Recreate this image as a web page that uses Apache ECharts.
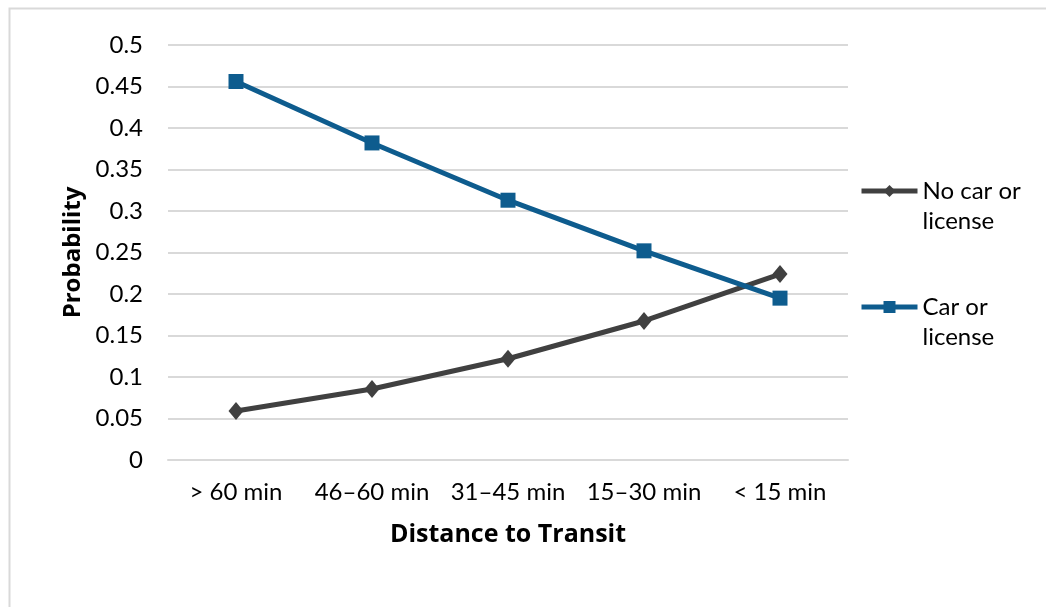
<!DOCTYPE html>
<html>
<head>
<meta charset="utf-8">
<script src="https://cdn.jsdelivr.net/npm/echarts@6/dist/echarts.min.js"></script>
<style>
  html, body { margin: 0; padding: 0; background: #fff; }
  #chart { width: 1046px; height: 607px; }
</style>
</head>
<body>
<div id="chart"></div>
<script>
// Travel-time bands to the nearest transit stop
const categories = ['> 60 min', '46\u201360 min', '31\u201345 min', '15\u201330 min', '< 15 min'];

// Predicted probability per band
const noCarOrLicense = [0.059, 0.0855, 0.122, 0.1675, 0.224];
const carOrLicense = [0.456, 0.382, 0.313, 0.252, 0.195];

// Legend wording, wrapped over two lines
const legendText = {
  'No car or license': 'No car or\nlicense',
  'Car or license': 'Car or\nlicense'
};

const FONT = 'Lato, "Open Sans", sans-serif';
const TITLE_FONT = '"Open Sans", Lato, sans-serif';
const chart = echarts.init(document.getElementById('chart'));

chart.setOption({
  animation: false,
  backgroundColor: '#ffffff',
  textStyle: { fontFamily: FONT },
  graphic: [{
    type: 'rect',
    left: 7, top: 6,
    shape: { width: 1100, height: 700 },
    style: { fill: 'none', stroke: '#d9d9d9', lineWidth: 2 },
    silent: true
  }],
  grid: { left: 168, right: 198, top: 45, bottom: 147 },
  legend: {
    orient: 'vertical',
    left: 854,
    top: 141,
    itemWidth: 56,
    itemHeight: 15,
    itemGap: 26,
    lineStyle: { width: 5 },
    textStyle: { fontFamily: FONT, fontSize: 24, color: '#000', lineHeight: 30 },
    // a leading blank line keeps the first line of text level with the symbol
    formatter: name => ' \n' + legendText[name],
    data: ['No car or license', 'Car or license']
  },
  xAxis: {
    type: 'category',
    data: categories,
    boundaryGap: true,
    name: 'Distance to Transit',
    nameLocation: 'middle',
    nameGap: 62,
    nameTextStyle: { fontFamily: TITLE_FONT, fontSize: 25, fontWeight: 'bold', color: '#000' },
    axisLine: { show: true, lineStyle: { color: '#d9d9d9', width: 2 } },
    axisTick: { show: false },
    axisLabel: {
      fontFamily: FONT, fontSize: 24, color: '#000', margin: 20,
      interval: 0, hideOverlap: false
    }
  },
  yAxis: {
    type: 'value',
    min: 0, max: 0.5, interval: 0.05,
    name: 'Probability',
    nameLocation: 'middle',
    nameGap: 77,
    nameTextStyle: { fontFamily: TITLE_FONT, fontSize: 24, fontWeight: 'bold', color: '#000' },
    axisLine: { show: false },
    axisTick: { show: false },
    axisLabel: {
      fontFamily: FONT, fontSize: 24, color: '#000', margin: 25,
      formatter: v => String(parseFloat(v.toFixed(2)))
    },
    splitLine: { lineStyle: { color: '#d9d9d9', width: 2 } }
  },
  series: [
    {
      name: 'No car or license',
      type: 'line',
      data: noCarOrLicense,
      color: '#404040',
      symbol: 'diamond',
      symbolSize: [15, 18],
      lineStyle: { width: 5, color: '#404040' },
      itemStyle: { color: '#404040' },
      z: 2
    },
    {
      name: 'Car or license',
      type: 'line',
      data: carOrLicense,
      color: '#0e5c8e',
      symbol: 'rect',
      symbolSize: 15,
      lineStyle: { width: 5, color: '#0e5c8e' },
      itemStyle: { color: '#0e5c8e' },
      z: 3
    }
  ]
});
</script>
</body>
</html>
